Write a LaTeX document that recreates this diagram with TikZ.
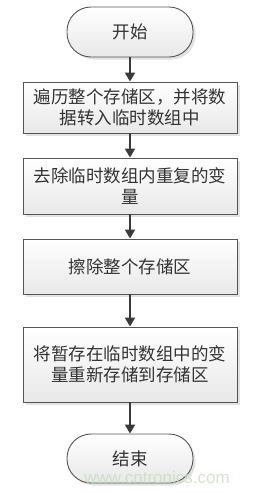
\documentclass[tikz,border=0pt]{standalone}
\usepackage{fontspec}
\newfontfamily\cjk{Noto Sans CJK SC}
\newfontfamily\wmfont{Liberation Sans}
\usetikzlibrary{arrows.meta,shadows}
\definecolor{edgec}{HTML}{555555}
\definecolor{txtc}{HTML}{333333}
\definecolor{arrc}{HTML}{3A3A3A}
\definecolor{wmc}{HTML}{C6DEBE}
\tikzset{
  flowbase/.style={draw=edgec, line width=0.9pt, top color=white, bottom color=gray!18,
    text=txtc, align=center, font=\cjk\fontsize{17.5}{21.5}\selectfont,
    drop shadow={shadow xshift=2.5pt, shadow yshift=-2.5pt, fill=gray!45, opacity=0.5}},
  procbox/.style={flowbase, minimum width=214pt, inner sep=0pt},
  termbox/.style={flowbase, rounded corners=24pt, minimum width=126pt, inner sep=0pt},
  flowarrow/.style={draw=arrc, line width=2pt, -{Triangle[length=9pt,width=10pt]}}
}
\begin{document}
\begin{tikzpicture}[x=1pt,y=-1pt]
\useasboundingbox[fill=white] (0,0) rectangle (257,493);
\node[termbox, minimum height=50pt] (start) at (130,32) {开始};
\node[procbox, minimum height=51pt] (b1) at (130,107.5) {遍历整个存储区，并将数\\据转入临时数组中};
\node[procbox, minimum height=56pt] (b2) at (130,186) {去除临时数组内重复的变\\量};
\node[procbox, minimum height=55pt] (b3) at (130,266.5) {擦除整个存储区};
\node[procbox, minimum height=75pt] (b4) at (130,364.5) {将暂存在临时数组中的变\\量重新存储到存储区};
\node[termbox, minimum height=49pt] (end) at (130,458.5) {结束};
\draw[flowarrow] (start) -- (b1);
\draw[flowarrow] (b1) -- (b2);
\draw[flowarrow] (b2) -- (b3);
\draw[flowarrow] (b3) -- (b4);
\draw[flowarrow] (b4) -- (end);
\node[text=wmc, font=\wmfont\fontsize{17}{17}\selectfont, opacity=0.8] (wm) at (157,477) {www.cntronics.com};
\end{tikzpicture}
\end{document}
